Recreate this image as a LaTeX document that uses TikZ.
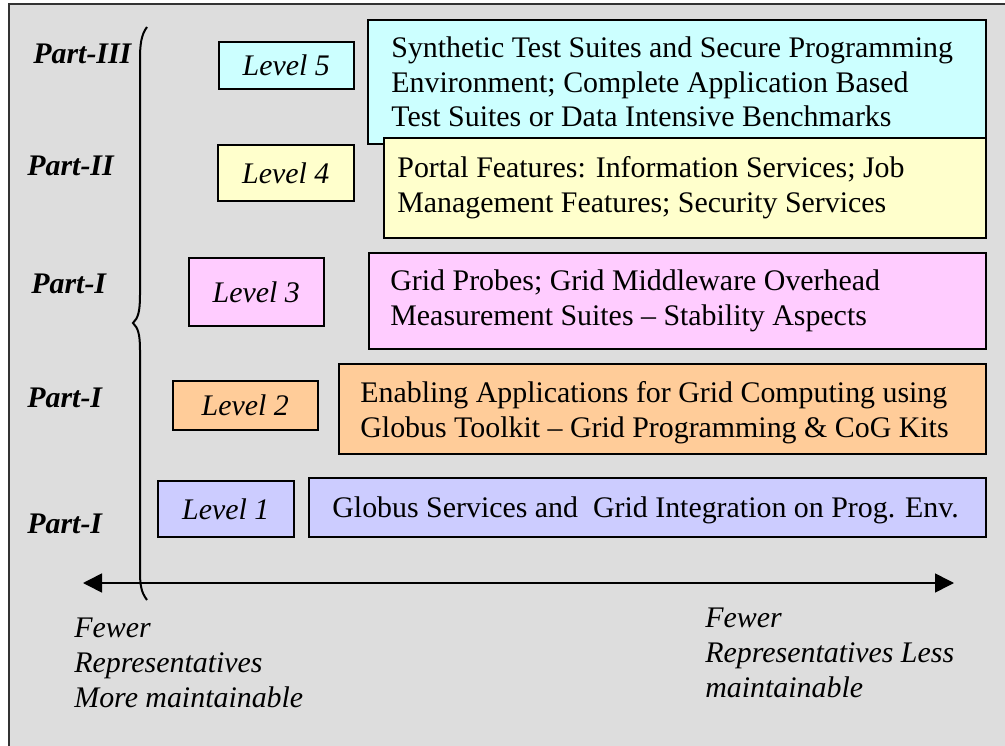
\documentclass[tikz,border=0pt]{standalone}
\usepackage{fontspec}
\setmainfont{Liberation Serif}
\usepackage{tikz}
\usetikzlibrary{arrows.meta}
\definecolor{bggray}  {RGB}{221, 221, 221}
\definecolor{lvcyan}  {RGB}{204, 255, 255}
\definecolor{lvyellow}{RGB}{255, 255, 204}
\definecolor{lvpink}  {RGB}{255, 204, 255}
\definecolor{lvorange}{RGB}{255, 204, 153}
\definecolor{lvblue}  {RGB}{204, 204, 255}
\newcommand{\txtfont}{\fontsize{15}{17.5}\selectfont}

\begin{document}
\begin{tikzpicture}[x=0.5bp,y=-0.5bp,
		lvbox/.style={draw, line width=0.8bp, inner sep=0pt, anchor=north west, font=\txtfont\itshape},
		descbox/.style={draw, line width=0.8bp, inner sep=0pt, anchor=north west},
		desctext/.style={anchor=west, inner sep=0pt, align=left, font=\txtfont},
		part/.style={anchor=base west, inner sep=0pt, font=\txtfont\bfseries\itshape},
		note/.style={anchor=north west, inner sep=0pt, align=left, font=\txtfont\itshape}]
	\useasboundingbox (0,0) rectangle (1005,746);
	\clip (0,0) rectangle (1005,746);
	\draw[line width=1bp, fill=bggray, draw=black!80] (9,4) rectangle (1020,760);
	% levels
	\node[lvbox, fill=lvcyan,   minimum width=67.5bp, minimum height=23.5bp] (l5) at (218,41)  {Level 5};
	\node[lvbox, fill=lvyellow, minimum width=68bp,   minimum height=28bp]   (l4) at (217,144) {Level 4};
	\node[lvbox, fill=lvpink,   minimum width=67.5bp, minimum height=34bp]   (l3) at (188,257) {Level 3};
	\node[lvbox, fill=lvorange, minimum width=72.5bp, minimum height=24.5bp] (l2) at (172,380) {Level 2};
	\node[lvbox, fill=lvblue,   minimum width=68bp,   minimum height=28bp]   (l1) at (157,480) {Level 1};
	% descriptions
	\node[descbox, fill=lvcyan,   minimum width=309bp,   minimum height=62bp]   (d5) at (367,19)  {};
	\node[desctext] (t5) at ([xshift=12bp]d5.west) {Synthetic Test Suites and Secure Programming\\Environment; Complete Application Based\\Test Suites or Data Intensive Benchmarks};
	\node[descbox, fill=lvyellow, minimum width=301bp,   minimum height=50bp]   (d4) at (383,137) {};
	\node[desctext] (t4) at ([xshift=7bp]d4.west) {Portal Features: Information Services; Job\\Management Features; Security Services};
	\node[descbox, fill=lvpink,   minimum width=308.5bp, minimum height=48bp]   (d3) at (368,252) {};
	\node[desctext] (t3) at ([xshift=11bp]d3.west) {Grid Probes; Grid Middleware Overhead\\Measurement Suites -- Stability Aspects};
	\node[descbox, fill=lvorange, minimum width=323.5bp, minimum height=45bp]   (d2) at (338,363) {};
	\node[desctext] (t2) at ([xshift=11bp,yshift=-2bp]d2.west) {Enabling Applications for Grid Computing using\\Globus Toolkit -- Grid Programming \& CoG Kits};
	\node[descbox, fill=lvblue,   minimum width=338.5bp, minimum height=29.5bp] (d1) at (308,477) {};
	\node[desctext] (t1) at ([xshift=12bp,yshift=-1.5bp]d1.west) {Globus Services and \ Grid Integration on Prog. Env.};
	% parts
	\node[part] (p5) at (33,63)  {Part-III};
	\node[part] (p4) at (27,175) {Part-II};
	\node[part] (p3) at (31,293) {Part-I};
	\node[part] (p2) at (27,407) {Part-I};
	\node[part] (p1) at (27,533) {Part-I};
	% brace
	\draw[line width=1bp] (147,27) .. controls (141,35) and (140,45) .. (140,60) -- (140,295)
		.. controls (140,312) and (138,318) .. (133,323) .. controls (138,328) and (140,334) .. (140,350)
		-- (140,570) .. controls (140,585) and (141,592) .. (147,600);
	% axis
	\coordinate (axl) at (83,583);
	\coordinate (axr) at (954,583);
	\draw[line width=0.8bp, {Triangle[length=9.5bp,width=9.5bp]}-{Triangle[length=9.5bp,width=9.5bp]}] (axl) -- (axr);
	\node[note] (nl) at (74,618) {Fewer\\Representatives\\More maintainable};
	\node[note] (nr) at (705,608) {Fewer\\Representatives Less\\maintainable};
\end{tikzpicture}
\end{document}
